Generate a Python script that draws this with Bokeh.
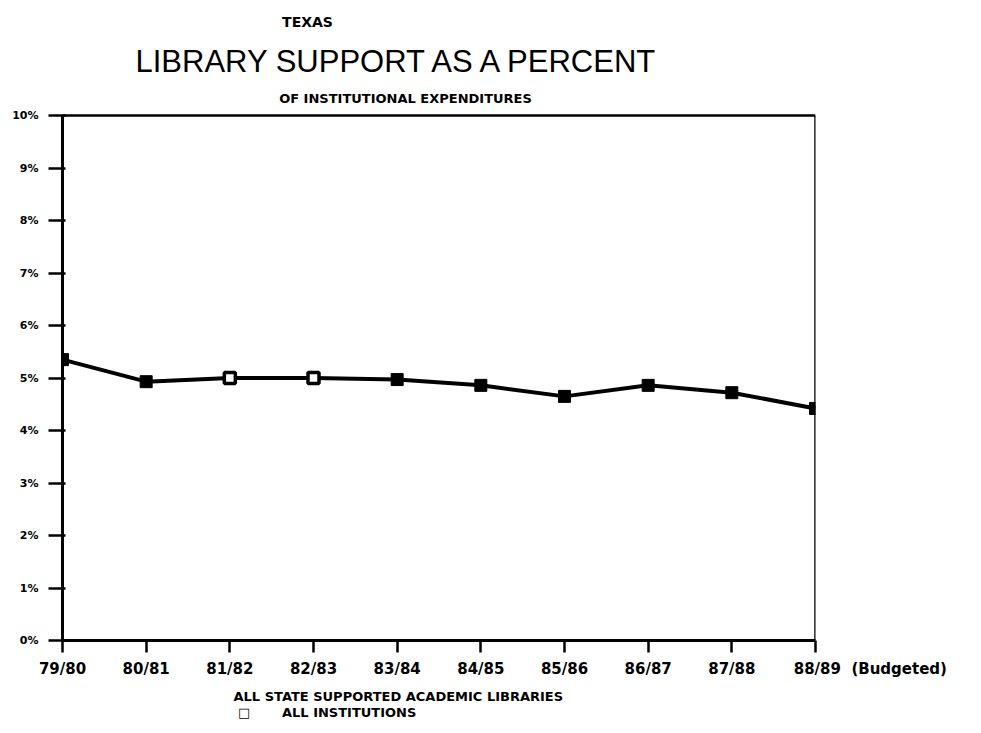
from bokeh.plotting import figure
from bokeh.models import FixedTicker, Label, Range1d, Title
from bokeh.embed import file_html
from bokeh.resources import INLINE

years = ["79/80", "80/81", "81/82", "82/83", "83/84", "84/85", "85/86", "86/87", "87/88", "88/89"]
pct = [5.35, 4.93, 5.0, 5.0, 4.97, 4.86, 4.65, 4.86, 4.72, 4.42]
open_marker = [False, False, True, True, False, False, False, False, False, False]
y_ticks = [0, 1, 2, 3, 4, 5, 6, 7, 8, 9, 10]
last_note = "(Budgeted)"
legend_lines = ["ALL STATE SUPPORTED ACADEMIC LIBRARIES", "\u25a1", "ALL INSTITUTIONS"]

W, H = 975, 730
F_LEFT, F_RIGHT, F_TOP, F_BOTTOM = 62, 815, 115, 640   # page pixels of the 0..9 / 0..10% box
px_per_pct = (F_BOTTOM - F_TOP) / (y_ticks[-1] - y_ticks[0])
y_top = y_ticks[-1] + F_TOP / px_per_pct  # frame extends to canvas top for the headings

p = figure(width=W, height=H, output_backend="svg", toolbar_location=None,
           x_range=Range1d(0, len(years) - 1), y_range=Range1d(y_ticks[0], y_top),
           min_border_left=F_LEFT, min_border_right=W - F_RIGHT, min_border_top=0,
           min_border_bottom=H - F_BOTTOM)
p.title.visible = False
p.grid.visible = False
p.outline_line_color = None
p.background_fill_color = "white"

xs = list(range(len(years)))
# top and right sides of the box
p.segment(x0=[xs[0], xs[-1]], y0=[y_ticks[-1], y_ticks[0]], x1=[xs[-1], xs[-1]],
          y1=[y_ticks[-1], y_ticks[-1]], line_color="black", line_width=2.5)

p.line(xs, pct, line_color="black", line_width=4)
fx = [x for x, o in zip(xs, open_marker) if not o]
fy = [y for y, o in zip(pct, open_marker) if not o]
ox = [x for x, o in zip(xs, open_marker) if o]
oy = [y for y, o in zip(pct, open_marker) if o]
p.scatter(fx, fy, marker="square", size=12, fill_color="black", line_color="black")
p.scatter(ox, oy, marker="square", size=11, fill_color="white", line_color="black", line_width=3.5)

for ax in (p.xaxis[0], p.yaxis[0]):
    ax.axis_line_width = 3
    ax.axis_line_color = "black"
    ax.major_tick_line_width = 2.5
    ax.major_tick_line_color = "black"
    ax.minor_tick_line_color = None
    ax.major_label_text_font = "DejaVu Sans"
    ax.major_label_text_font_style = "bold"
    ax.major_label_text_color = "black"

p.yaxis.bounds = (y_ticks[0], y_ticks[-1])
p.yaxis.ticker = FixedTicker(ticks=y_ticks)
p.yaxis.major_label_overrides = {t: f"{t}%" for t in y_ticks}
p.yaxis.major_tick_out = 14
p.yaxis.major_tick_in = 3
p.yaxis.major_label_text_font_size = "11px"
p.yaxis.major_label_standoff = 10

NB = "\u00a0"
labels = {i: y for i, y in enumerate(years)}
labels[len(years) - 1] = NB * 21 + years[-1] + NB * 2 + last_note
p.xaxis.ticker = FixedTicker(ticks=xs)
p.xaxis.major_label_overrides = labels
p.xaxis.major_tick_out = 12
p.xaxis.major_tick_in = 0
p.xaxis.major_label_text_font_size = "15px"
p.xaxis.major_label_standoff = 7


def page_label(px, py, text, **kw):
    # screen units are measured from the frame's lower-left corner
    p.add_layout(Label(x=px - F_LEFT, y=F_BOTTOM - py, x_units="screen",
                       y_units="screen", text=text, text_color="black",
                       text_baseline="middle", **kw))


page_label(307, 21, "TEXAS", text_font="DejaVu Sans", text_font_style="bold",
           text_font_size="14px", text_align="center")
page_label(398, 61, "LIBRARY SUPPORT AS A PERCENT", text_font="Liberation Sans",
           text_font_size="31px", text_align="center")
page_label(405, 98, "OF INSTITUTIONAL EXPENDITURES", text_font="DejaVu Sans",
           text_font_style="bold", text_font_size="13px", text_align="center")

legend_text = legend_lines[0] + "\n" + NB + legend_lines[1] + NB * 7 + legend_lines[2]
p.add_layout(Title(text=legend_text, align="left", offset=233 - F_LEFT,
                   text_font="DejaVu Sans", text_font_style="bold", text_font_size="13px",
                   text_line_height=1.05, text_color="black", standoff=12), "below")

open("out.html", "w").write(file_html(p, INLINE))
